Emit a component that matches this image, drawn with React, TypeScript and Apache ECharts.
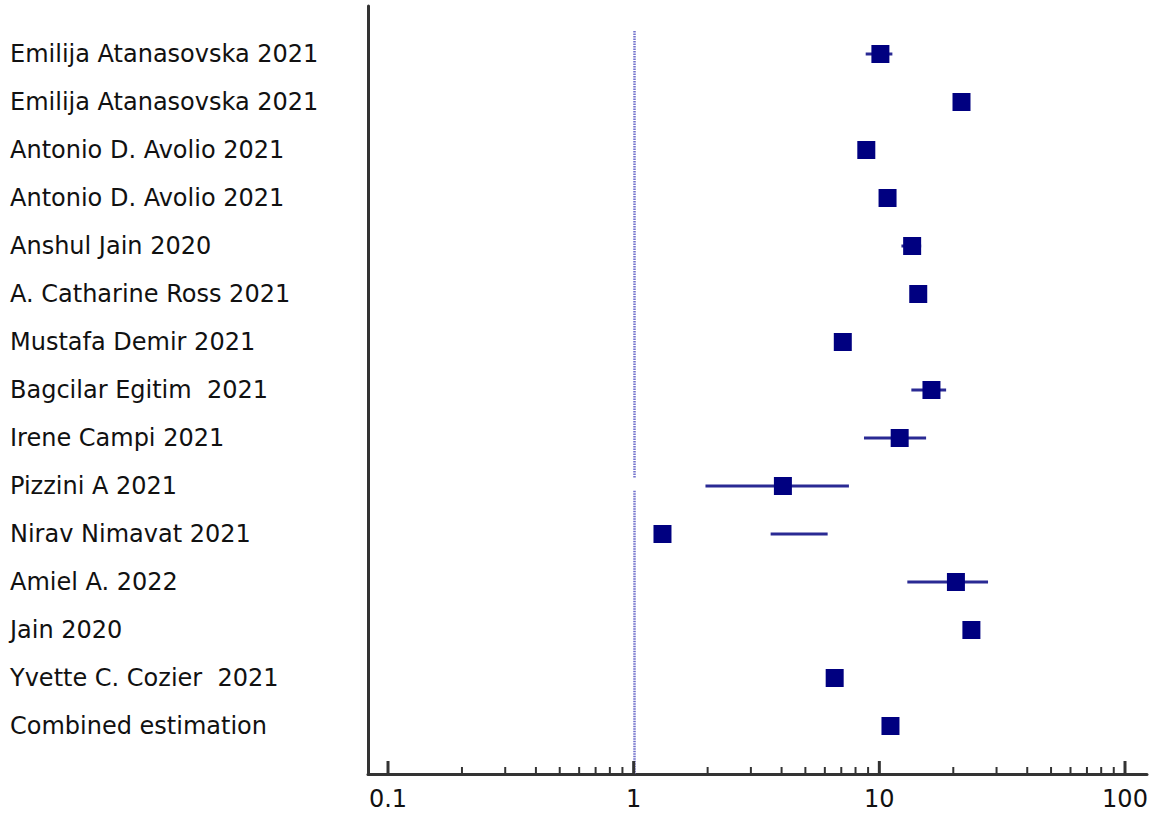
import React, { useEffect, useRef } from "react";
import * as echarts from "echarts";

const studies = [
  "Emilija Atanasovska 2021",
  "Emilija Atanasovska 2021",
  "Antonio D. Avolio 2021",
  "Antonio D. Avolio 2021",
  "Anshul Jain 2020",
  "A. Catharine Ross 2021",
  "Mustafa Demir 2021",
  "Bagcilar Egitim  2021",
  "Irene Campi 2021",
  "Pizzini A 2021",
  "Nirav Nimavat 2021",
  "Amiel A. 2022",
  "Jain 2020",
  "Yvette C. Cozier  2021",
  "Combined estimation",
];
const estimates = [10.1, 21.6, 8.85, 10.8, 13.6, 14.4, 7.1, 16.3, 12.1, 4.05, 1.31, 20.5, 23.7, 6.58, 11.1];
const ciLower = [8.8, 20.4, 8.4, 10.3, 12.3, 13.7, 6.7, 13.5, 8.66, 1.96, 3.61, 13.0, 22.5, 6.2, 10.5];
const ciUpper = [11.3, 22.8, 9.3, 11.4, 14.8, 15.1, 7.5, 18.7, 15.5, 7.52, 6.16, 27.7, 25.0, 7.0, 11.8];

const majorTicks = [0.1, 1, 10, 100];
const minorTicks = [
  0.2, 0.3, 0.4, 0.5, 0.6, 0.7, 0.8, 0.9,
  2, 3, 4, 5, 6, 7, 8, 9,
  20, 30, 40, 50, 60, 70, 80, 90,
];
// reference line at 1 (two dotted segments, in row units)
const refSegments = [
  [1, -0.48, 8.83],
  [1, 9.1, 15],
];

const X_MIN = 0.0829;
const X_MAX = 122.9;
const Y_MIN = -1;
const Y_MAX = 15;

const FONT = "DejaVu Sans";
const AXIS_COLOR = "#333333";

export default function App() {
  const ref = useRef<HTMLDivElement>(null);

  useEffect(() => {
    if (!ref.current) return;
    const chart = echarts.init(ref.current, undefined, { renderer: "svg" });

    const tickSeries = (values: number[], len: number, width: number) => ({
      type: "custom",
      silent: true,
      clip: false,
      z: 5,
      data: values.map((v) => [v, Y_MAX]),
      encode: { x: 0, y: 1 },
      renderItem: (_p: any, api: any) => {
        const pt = api.coord([api.value(0), api.value(1)]);
        return {
          type: "line",
          shape: { x1: pt[0], y1: pt[1], x2: pt[0], y2: pt[1] - len },
          style: { stroke: AXIS_COLOR, lineWidth: width },
        };
      },
    });

    chart.setOption({
      animation: false,
      backgroundColor: "#ffffff",
      grid: {
        left: 368,
        right: 7,
        top: 6,
        bottom: 45,
        containLabel: false,
        outerBoundsMode: "none",
      },
      xAxis: {
        type: "log",
        logBase: 10,
        min: X_MIN,
        max: X_MAX,
        axisLine: { show: true, onZero: false, lineStyle: { color: AXIS_COLOR, width: 3 } },
        axisTick: { show: false },
        minorTick: { show: false },
        splitLine: { show: false },
        axisLabel: {
          show: true,
          showMinLabel: false,
          showMaxLabel: false,
          margin: 13,
          fontFamily: FONT,
          fontSize: 24,
          color: "#111111",
          formatter: (v: number) => String(+Number(v).toPrecision(6)),
        },
      },
      yAxis: {
        type: "value",
        inverse: true,
        min: Y_MIN,
        max: Y_MAX,
        interval: 1,
        axisLine: { show: true, onZero: false, lineStyle: { color: AXIS_COLOR, width: 3 } },
        axisTick: { show: false },
        splitLine: { show: false },
        axisLabel: {
          show: true,
          align: "left",
          margin: 358,
          fontFamily: FONT,
          fontSize: 24,
          color: "#111111",
          formatter: (v: number) => studies[v] ?? "",
        },
      },
      series: [
        {
          type: "custom",
          silent: true,
          clip: false,
          z: 1,
          data: refSegments,
          encode: { x: 0, y: [1, 2] },
          renderItem: (_p: any, api: any) => {
            const a = api.coord([api.value(0), api.value(1)]);
            const b = api.coord([api.value(0), api.value(2)]);
            const x = Math.round(a[0]) + 0.5;
            return {
              type: "line",
              shape: { x1: x, y1: a[1], x2: x, y2: b[1] },
              style: { stroke: "#7272cc", lineWidth: 2.5, lineDash: [1.5, 1] },
            };
          },
        },
        {
          type: "custom",
          silent: true,
          z: 2,
          data: studies.map((_, i) => [ciLower[i], ciUpper[i], i]),
          encode: { x: [0, 1], y: 2 },
          renderItem: (_p: any, api: any) => {
            const a = api.coord([api.value(0), api.value(2)]);
            const b = api.coord([api.value(1), api.value(2)]);
            return {
              type: "line",
              shape: { x1: a[0], y1: a[1], x2: b[0], y2: b[1] },
              style: { stroke: "#2a2a94", lineWidth: 3 },
            };
          },
        },
        {
          type: "scatter",
          z: 3,
          symbol: "rect",
          symbolSize: 18,
          itemStyle: { color: "#000080", opacity: 1 },
          data: estimates.map((v, i) => [v, i]),
        },
        tickSeries(majorTicks, 13, 3),
        tickSeries(minorTicks, 7, 2),
      ],
    });

    return () => chart.dispose();
  }, []);

  return (
    <div
      ref={ref}
      style={{ position: "fixed", left: 0, top: 0, width: 1154, height: 819, background: "#fff" }}
    />
  );
}
